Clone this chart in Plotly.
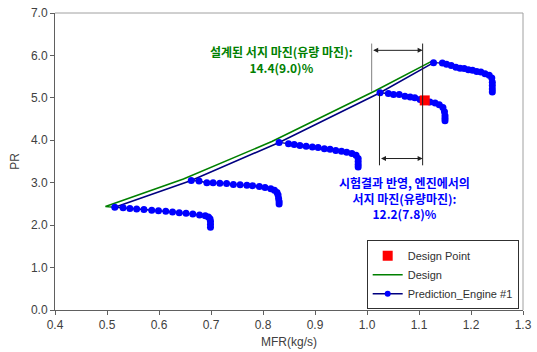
import plotly.graph_objects as go

# Compressor map: predicted speed lines (MFR in kg/s, pressure ratio PR)
speed1_mfr = [0.515, 0.531, 0.544, 0.557, 0.571, 0.586, 0.599, 0.613, 0.626, 0.639,
              0.652, 0.665, 0.678, 0.689, 0.695, 0.698, 0.699, 0.699, 0.699]
speed1_pr = [2.42, 2.41, 2.39, 2.38, 2.37, 2.35, 2.34, 2.33, 2.31, 2.29,
             2.28, 2.26, 2.24, 2.22, 2.19, 2.15, 2.09, 2.02, 1.95]

speed2_mfr = [0.662, 0.677, 0.692, 0.704, 0.717, 0.730, 0.743, 0.756, 0.769, 0.780,
              0.793, 0.804, 0.815, 0.822, 0.827, 0.829, 0.830, 0.831, 0.831]
speed2_pr = [3.05, 3.04, 3.00, 3.00, 2.99, 2.98, 2.96, 2.95, 2.94, 2.93,
             2.91, 2.89, 2.86, 2.82, 2.77, 2.71, 2.63, 2.56, 2.50]

speed3_mfr = [0.831, 0.849, 0.860, 0.871, 0.883, 0.895, 0.906, 0.918, 0.929, 0.940,
              0.951, 0.961, 0.971, 0.979, 0.983, 0.983, 0.983, 0.983]
speed3_pr = [3.95, 3.92, 3.90, 3.88, 3.86, 3.84, 3.83, 3.80, 3.79, 3.76,
             3.74, 3.72, 3.69, 3.65, 3.57, 3.50, 3.43, 3.37]

speed4_mfr = [1.025, 1.041, 1.051, 1.062, 1.073, 1.083, 1.092, 1.102, 1.112, 1.121,
              1.131, 1.139, 1.146, 1.149, 1.150, 1.150, 1.150]
speed4_pr = [5.12, 5.10, 5.08, 5.08, 5.04, 5.02, 5.00, 4.96, 4.94, 4.90,
             4.88, 4.84, 4.77, 4.67, 4.58, 4.52, 4.46]

speed5_mfr = [1.128, 1.145, 1.153, 1.162, 1.171, 1.179, 1.187, 1.195, 1.203, 1.211,
              1.219, 1.227, 1.235, 1.240, 1.241, 1.241, 1.241, 1.241]
speed5_pr = [5.83, 5.82, 5.79, 5.76, 5.72, 5.70, 5.69, 5.66, 5.65, 5.62,
             5.61, 5.57, 5.53, 5.47, 5.37, 5.29, 5.21, 5.14]

# Predicted surge line through the first point of each speed line
surge_pred_mfr = [0.515, 0.662, 0.831, 1.025, 1.128]
surge_pred_pr = [2.42, 3.05, 3.95, 5.12, 5.83]

# Design surge line
design_mfr = [0.515, 0.497, 0.647, 0.817, 1.015, 1.124]
design_pr = [2.42, 2.44, 3.09, 3.97, 5.16, 5.86]

# Design point
dp_mfr = [1.111]
dp_pr = [4.94]

# Surge margin brackets (MFR positions and PR levels)
design_margin_x = [1.009, 1.107]
engine_margin_x = [1.024, 1.107]
bracket_top_pr = 6.28
bracket_bottom_pr = 3.41
design_arrow_pr = 6.12
engine_arrow_pr = 3.57

x_ticks = [0.4, 0.5, 0.6, 0.7, 0.8, 0.9, 1.0, 1.1, 1.2, 1.3]
y_ticks = [0.0, 1.0, 2.0, 3.0, 4.0, 5.0, 6.0, 7.0]

NAVY = "#000080"
BLUE = "#0000FF"
GREEN = "#008000"
KR_FONT = "Noto Sans CJK KR"
TICK_FONT = "Liberation Sans"

fig = go.Figure()

# Design surge line
fig.add_trace(go.Scatter(x=design_mfr, y=design_pr, mode="lines",
                         line=dict(color=GREEN, width=1.6), showlegend=False,
                         hoverinfo="skip"))

# Predicted surge line
fig.add_trace(go.Scatter(x=surge_pred_mfr, y=surge_pred_pr, mode="lines",
                         line=dict(color=NAVY, width=1.6), showlegend=False,
                         hoverinfo="skip"))

speeds = [(speed1_mfr, speed1_pr), (speed2_mfr, speed2_pr), (speed3_mfr, speed3_pr),
          (speed4_mfr, speed4_pr), (speed5_mfr, speed5_pr)]
for mx, pr in speeds:
    fig.add_trace(go.Scatter(x=mx, y=pr, mode="lines+markers",
                             line=dict(color=NAVY, width=1.4),
                             marker=dict(color=BLUE, size=7, symbol="circle"),
                             name="Prediction_Engine #1", legendgroup="pred",
                             showlegend=False))

# Design point
fig.add_trace(go.Scatter(x=dp_mfr, y=dp_pr, mode="markers",
                         marker=dict(color="#FF0000", size=10, symbol="square"),
                         name="Design Point", legendrank=1))

# Legend-only entries
fig.add_trace(go.Scatter(x=[None], y=[None], mode="lines",
                         line=dict(color=GREEN, width=1.6), name="Design", legendrank=2))
fig.add_trace(go.Scatter(x=[None], y=[None], mode="lines+markers",
                         line=dict(color=NAVY, width=1.4),
                         marker=dict(color=BLUE, size=6),
                         name="Prediction_Engine #1", legendrank=3))

shapes = [
    dict(type="line", xref="x", yref="y", x0=design_margin_x[0], x1=design_margin_x[0],
         y0=5.15, y1=bracket_top_pr, line=dict(color="#808080", width=1)),
    dict(type="line", xref="x", yref="y", x0=design_margin_x[1], x1=design_margin_x[1],
         y0=bracket_bottom_pr, y1=bracket_top_pr, line=dict(color="#202020", width=1)),
    dict(type="line", xref="x", yref="y", x0=engine_margin_x[0], x1=engine_margin_x[0],
         y0=bracket_bottom_pr, y1=5.11, line=dict(color="#202020", width=1)),
    # light frame on top and right of the plotting area
    dict(type="line", xref="paper", yref="paper", x0=0, x1=1, y0=1, y1=1,
         line=dict(color="#A0A0A0", width=1)),
    dict(type="line", xref="paper", yref="paper", x0=1, x1=1, y0=0, y1=1,
         line=dict(color="#A0A0A0", width=1)),
]

annotations = [
    # double-headed arrows
    dict(x=design_margin_x[1], y=design_arrow_pr, ax=design_margin_x[0], ay=design_arrow_pr,
         xref="x", yref="y", axref="x", ayref="y", text="", showarrow=True,
         arrowhead=2, startarrowhead=2, arrowside="end+start", arrowsize=1,
         arrowwidth=1, arrowcolor="#202020", standoff=0, startstandoff=0),
    dict(x=engine_margin_x[1], y=engine_arrow_pr, ax=engine_margin_x[0], ay=engine_arrow_pr,
         xref="x", yref="y", axref="x", ayref="y", text="", showarrow=True,
         arrowhead=2, startarrowhead=2, arrowside="end+start", arrowsize=1,
         arrowwidth=1, arrowcolor="#202020", standoff=0, startstandoff=0),
    # design margin label
    dict(x=0.835, y=5.9, xref="x", yref="y", showarrow=False,
         text="<b>설계된 서지 마진(유량 마진):<br>14.4(9.0)%</b>",
         font=dict(family=KR_FONT, size=12, color=GREEN), align="center"),
    # engine margin label
    dict(x=1.073, y=2.64, xref="x", yref="y", showarrow=False,
         text="<b>시험결과 반영, 엔진에서의<br>서지 마진(유량마진):<br>12.2(7.8)%</b>",
         font=dict(family=KR_FONT, size=12, color=BLUE), align="center"),
]

fig.update_layout(
    width=537, height=352,
    margin=dict(l=55, r=14, t=13, b=42),
    paper_bgcolor="white", plot_bgcolor="white",
    shapes=shapes, annotations=annotations,
    showlegend=True,
    legend=dict(x=0.666, y=0.235, xanchor="left", yanchor="top",
                bgcolor="white", bordercolor="#303030", borderwidth=1,
                font=dict(family=TICK_FONT, size=11, color="#303030"),
                tracegroupgap=0, itemwidth=30),
    font=dict(family=TICK_FONT, size=12, color="#404040"),
)

fig.update_xaxes(range=[0.4, 1.3], tickvals=x_ticks,
                 ticktext=[f"{v:.1f}" for v in x_ticks], automargin=False,
                 showgrid=False, zeroline=False, showline=True,
                 linecolor="#606060", linewidth=1, mirror=False,
                 ticks="outside", ticklen=4, tickcolor="#606060",
                 title=dict(text="MFR(kg/s)", font=dict(size=12, color="#404040"), standoff=6),
                 tickfont=dict(size=12, color="#404040"))
fig.update_yaxes(range=[0.0, 7.0], tickvals=y_ticks,
                 ticktext=[f"{v:.1f}" for v in y_ticks], automargin=False,
                 showgrid=False, zeroline=False, showline=True,
                 linecolor="#606060", linewidth=1, mirror=False,
                 ticks="outside", ticklen=4, tickcolor="#606060",
                 title=dict(text="PR", font=dict(size=12, color="#404040"), standoff=8),
                 tickfont=dict(size=12, color="#404040"))

fig.write_html("out.html")
